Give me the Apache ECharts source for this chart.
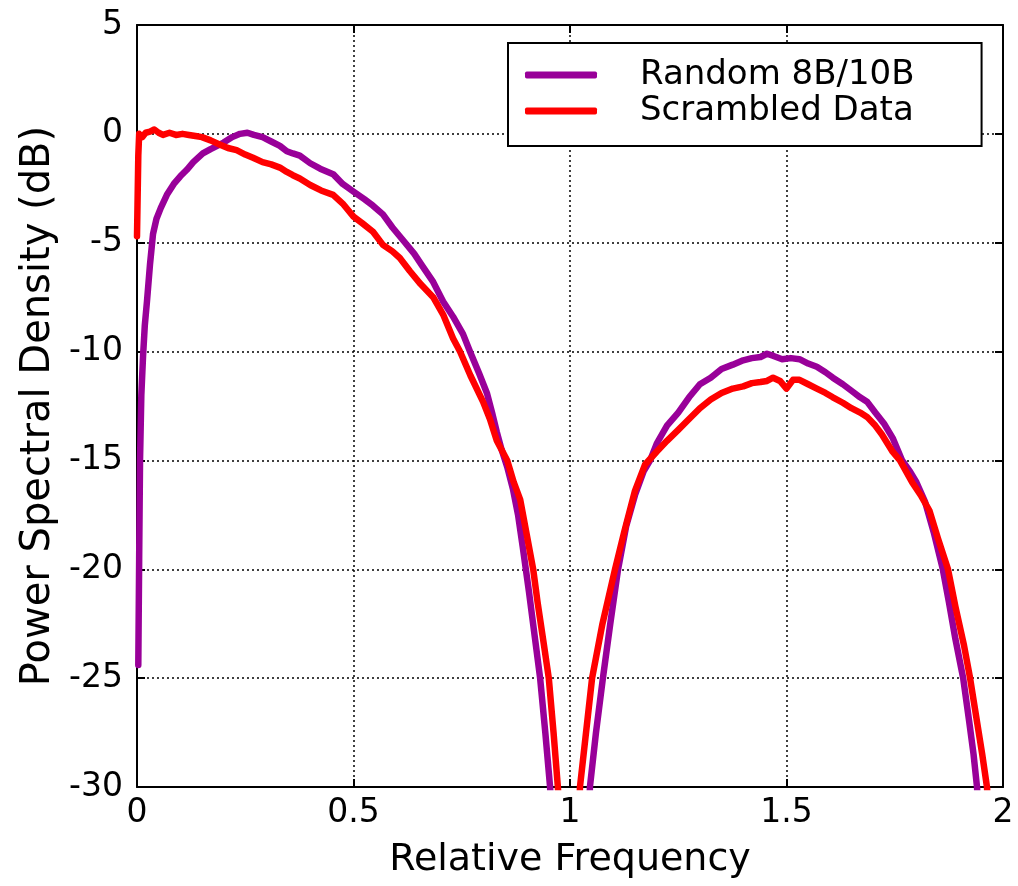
<!DOCTYPE html>
<html lang="en">
<head>
    <meta charset="UTF-8">
    <title>Power Spectral Density</title>
    <script src="https://cdn.jsdelivr.net/npm/echarts@6.0.0/dist/echarts.min.js"></script>
    <style type="text/css">
        body {
            margin: 0px;
            padding: 0px;
            background: #fff;
        }

        #chart {
            width: 1018px;
            height: 886px;
        }
    </style>
</head>

<body>
    <div id="chart"></div>
</body>

<script>
    // Random 8B/10B, two lobes, null = gap at f = 1
    const randomFreq = [
        0.003, 0.005, 0.007, 0.010, 0.014, 0.018, 0.023, 0.030, 0.037, 0.045,
        0.055, 0.069, 0.085, 0.100, 0.115, 0.130, 0.152, 0.170, 0.185, 0.200,
        0.220, 0.238, 0.255, 0.270, 0.290, 0.310, 0.330, 0.346, 0.360, 0.376,
        0.400, 0.423, 0.453, 0.475, 0.500, 0.525, 0.545, 0.568, 0.590, 0.615,
        0.640, 0.660, 0.684, 0.707, 0.730, 0.753, 0.769, 0.790, 0.808, 0.820,
        0.831, 0.842, 0.855, 0.868, 0.880, 0.891, 0.905, 0.918, 0.931, 0.943,
        0.954, 0.958,
        1.000,
        1.044, 1.046, 1.060, 1.076, 1.093, 1.111, 1.130, 1.150, 1.170, 1.185,
        1.201, 1.224, 1.250, 1.275, 1.300, 1.325, 1.350, 1.376, 1.400, 1.420,
        1.440, 1.455, 1.470, 1.490, 1.510, 1.530, 1.550, 1.570, 1.590, 1.607,
        1.630, 1.650, 1.670, 1.686, 1.705, 1.725, 1.746, 1.767, 1.785, 1.800,
        1.820, 1.840, 1.861, 1.875, 1.890, 1.908, 1.922, 1.932, 1.940, 1.944
    ];
    const randomPsd = [
        -24.4, -19.5, -15.0, -12.0, -10.2, -8.8, -7.7, -6.0, -4.6, -3.9,
        -3.4, -2.8, -2.3, -1.95, -1.65, -1.3, -0.9, -0.7, -0.55, -0.4,
        -0.15, 0.0, 0.05, -0.05, -0.15, -0.35, -0.55, -0.8, -0.9, -1.0,
        -1.35, -1.6, -1.85, -2.3, -2.65, -3.0, -3.3, -3.7, -4.3, -4.9,
        -5.5, -6.1, -6.8, -7.7, -8.4, -9.2, -10.0, -11.0, -11.9, -12.8,
        -13.7, -14.5, -15.3, -16.3, -17.5, -19.0, -21.0, -23.0, -25.0, -27.5,
        -30.0, -31.5,
        null,
        -31.5, -30.0, -27.5, -25.0, -22.5, -20.0, -18.0, -16.6, -15.5, -15.0,
        -14.2, -13.4, -12.8, -12.1, -11.5, -11.2, -10.8, -10.6, -10.4, -10.3,
        -10.25, -10.1, -10.2, -10.35, -10.3, -10.35, -10.55, -10.7, -10.95, -11.2,
        -11.5, -11.8, -12.1, -12.3, -12.8, -13.3, -14.0, -15.0, -15.5, -16.0,
        -16.9, -18.3, -20.0, -21.5, -23.2, -25.0, -27.0, -28.5, -30.0, -31.5
    ];

    // Scrambled data
    const scrambledFreq = [
        0.000, 0.003, 0.005, 0.012, 0.020, 0.030, 0.040, 0.050, 0.060, 0.075,
        0.090, 0.105, 0.120, 0.135, 0.150, 0.170, 0.192, 0.210, 0.230, 0.250,
        0.268, 0.290, 0.310, 0.330, 0.346, 0.360, 0.376, 0.400, 0.425, 0.453,
        0.475, 0.500, 0.520, 0.545, 0.568, 0.590, 0.607, 0.630, 0.655, 0.684,
        0.707, 0.730, 0.746, 0.770, 0.799, 0.815, 0.831, 0.855, 0.870, 0.885,
        0.900, 0.915, 0.925, 0.940, 0.951, 0.962, 0.972, 0.976,
        1.000,
        1.021, 1.023, 1.037, 1.051, 1.075, 1.104, 1.125, 1.150, 1.173, 1.200,
        1.224, 1.250, 1.275, 1.300, 1.325, 1.350, 1.376, 1.400, 1.420, 1.440,
        1.455, 1.469, 1.485, 1.500, 1.515, 1.530, 1.550, 1.570, 1.590, 1.607,
        1.630, 1.650, 1.670, 1.686, 1.705, 1.720, 1.745, 1.762, 1.790, 1.810,
        1.830, 1.850, 1.873, 1.890, 1.910, 1.924, 1.940, 1.952, 1.963, 1.967
    ];
    const scrambledPsd = [
        -4.7, -1.0, 0.0, -0.15, 0.05, 0.1, 0.2, 0.05, -0.05, 0.05,
        -0.05, 0.0, -0.05, -0.1, -0.15, -0.3, -0.5, -0.65, -0.75, -0.95,
        -1.1, -1.3, -1.4, -1.55, -1.75, -1.9, -2.05, -2.35, -2.6, -2.8,
        -3.2, -3.8, -4.1, -4.5, -5.1, -5.4, -5.7, -6.3, -6.9, -7.5,
        -8.3, -9.4, -10.0, -11.1, -12.3, -13.1, -14.1, -15.0, -16.0, -16.8,
        -18.4, -20.0, -21.5, -23.5, -25.0, -27.5, -30.0, -31.5,
        null,
        -31.5, -30.0, -27.5, -25.0, -22.5, -20.0, -18.3, -16.4, -15.2, -14.6,
        -14.1, -13.6, -13.1, -12.6, -12.2, -11.9, -11.7, -11.6, -11.45, -11.4,
        -11.35, -11.2, -11.35, -11.7, -11.3, -11.3, -11.5, -11.7, -11.9, -12.1,
        -12.35, -12.6, -12.8, -13.0, -13.4, -13.8, -14.6, -15.0, -16.0, -16.6,
        -17.3, -18.6, -20.0, -21.7, -23.5, -25.0, -27.0, -28.5, -30.0, -31.5
    ];

    const seriesNames = ['Random 8B/10B', 'Scrambled Data'];

    function pairs(freq, psd) {
        return freq.map((f, i) => [f, psd[i] === null ? '-' : psd[i]]);
    }

    const FONT = 'DejaVu Sans';

    const chart = echarts.init(document.getElementById('chart'), null, { renderer: 'canvas' });

    const boxAxisLine = { show: true, onZero: false, lineStyle: { color: '#000', width: 2 } };
    const boxTick = { show: true, inside: true, length: 8, lineStyle: { color: '#000', width: 2 } };

    const option = {
        backgroundColor: '#fff',
        animation: false,
        grid: { left: 137, right: 15, top: 25, bottom: 99 },
        legend: {
            orient: 'vertical',
            left: 508,
            top: 43,
            padding: [14, 67, 17, 17],
            backgroundColor: '#fff',
            borderColor: '#000',
            borderWidth: 2,
            borderRadius: 0,
            icon: 'roundRect',
            itemWidth: 72,
            itemHeight: 7,
            itemGap: 0,
            data: seriesNames,
            textStyle: {
                fontFamily: FONT,
                fontSize: 34,
                color: '#000',
                lineHeight: 36,
                padding: [0, 0, 0, 38]
            }
        },
        xAxis: [
            {
                type: 'value',
                min: 0,
                max: 2,
                interval: 0.5,
                name: 'Relative Frequency',
                nameLocation: 'middle',
                nameGap: 54,
                nameTextStyle: { fontFamily: FONT, fontSize: 38, color: '#000' },
                axisLine: boxAxisLine,
                axisTick: boxTick,
                axisLabel: { fontFamily: FONT, fontSize: 33, color: '#000', margin: 10 },
                splitLine: { show: true, lineStyle: { color: '#000', width: 1.5, type: [2, 3] } }
            },
            {
                type: 'value',
                position: 'top',
                min: 0,
                max: 2,
                interval: 0.5,
                axisLine: boxAxisLine,
                axisTick: boxTick,
                axisLabel: { show: false },
                splitLine: { show: false }
            }
        ],
        yAxis: [
            {
                type: 'value',
                min: -30,
                max: 5,
                interval: 5,
                name: 'Power Spectral Density (dB)',
                nameLocation: 'middle',
                nameGap: 78,
                nameTextStyle: { fontFamily: FONT, fontSize: 40, color: '#000' },
                axisLine: boxAxisLine,
                axisTick: boxTick,
                axisLabel: { fontFamily: FONT, fontSize: 33, color: '#000', margin: 14 },
                splitLine: { show: true, lineStyle: { color: '#000', width: 1.5, type: [2, 3] } }
            },
            {
                type: 'value',
                position: 'right',
                min: -30,
                max: 5,
                interval: 5,
                axisLine: boxAxisLine,
                axisTick: boxTick,
                axisLabel: { show: false },
                splitLine: { show: false }
            }
        ],
        series: [
            {
                name: seriesNames[0],
                type: 'line',
                xAxisIndex: 0,
                yAxisIndex: 0,
                data: pairs(randomFreq, randomPsd),
                symbol: 'none',
                clip: true,
                connectNulls: false,
                color: '#990099',
                lineStyle: { color: '#990099', width: 6.5, join: 'round', cap: 'round' },
                z: 3
            },
            {
                name: seriesNames[1],
                type: 'line',
                xAxisIndex: 0,
                yAxisIndex: 0,
                data: pairs(scrambledFreq, scrambledPsd),
                symbol: 'none',
                clip: true,
                connectNulls: false,
                color: '#ff0000',
                lineStyle: { color: '#ff0000', width: 6.5, join: 'round', cap: 'round' },
                z: 4
            }
        ]
    };

    chart.setOption(option);
</script>

</html>
